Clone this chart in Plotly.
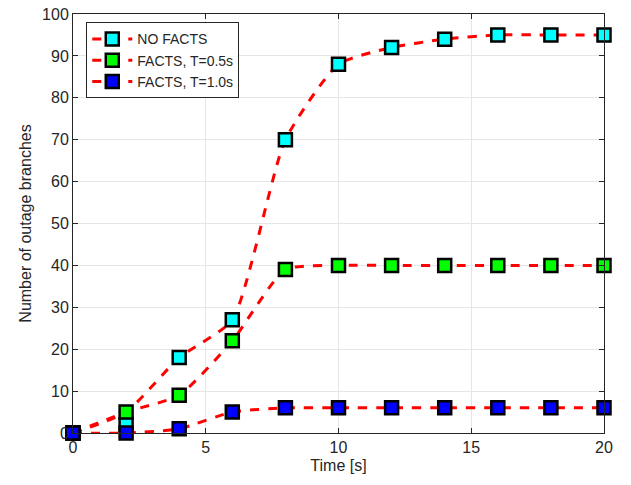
import plotly.graph_objects as go

time = [0, 2, 4, 6, 8, 10, 12, 14, 16, 18, 20]
no_facts = [0, 2, 18, 27, 70, 88, 92, 94, 95, 95, 95]
no_facts_curve = [0, 5, 18, 27, 70, 88, 92, 94, 95, 95, 95]
facts_05 = [0, 5, 9, 22, 39, 40, 40, 40, 40, 40, 40]
facts_10 = [0, 0, 1, 5, 6, 6, 6, 6, 6, 6, 6]

names = ["NO FACTS", "FACTS, T=0.5s", "FACTS, T=1.0s"]
fills = ["#00FFFF", "#00FF00", "#0000FF"]
marker_vals = [no_facts, facts_05, facts_10]
curve_vals = [no_facts_curve, facts_05, facts_10]

fig = go.Figure()
for cv in curve_vals:
    fig.add_trace(go.Scatter(
        x=time, y=cv, mode="lines",
        line=dict(color="#FF0000", width=3, dash="dash", shape="spline", smoothing=0.55),
        showlegend=False, hoverinfo="skip", cliponaxis=False))
for name, fill, mv in zip(names, fills, marker_vals):
    fig.add_trace(go.Scatter(
        x=time, y=mv, mode="markers", name=name, showlegend=False,
        marker=dict(symbol="square", size=13, color=fill, line=dict(color="black", width=2.5)),
        cliponaxis=False))
for name, fill in zip(names, fills):
    fig.add_trace(go.Scatter(
        x=[None], y=[None], mode="lines+markers", name=name,
        line=dict(color="#FF0000", width=3, dash="dash"),
        marker=dict(symbol="square", size=13, color=fill, line=dict(color="black", width=2.5))))

axis_common = dict(showgrid=True, gridcolor="#E6E6E6", gridwidth=1, showline=True, linecolor="#262626",
                   linewidth=1, mirror="ticks", ticks="inside", ticklen=5, tickcolor="#262626",
                   zeroline=False, automargin=False, tickfont=dict(size=16, color="#262626"))

fig.update_layout(
    width=631, height=485,
    margin=dict(l=73, r=27, t=14, b=52),
    paper_bgcolor="white", plot_bgcolor="white",
    font=dict(family="Liberation Sans, Arial, sans-serif", size=16, color="#262626"),
    xaxis=dict(range=[0, 20], dtick=5, title=dict(text="Time [s]", standoff=4, font=dict(size=16)), **axis_common),
    yaxis=dict(range=[0, 100], dtick=10, title=dict(text="Number of outage branches", standoff=6, font=dict(size=16)), **axis_common),
    legend=dict(x=0.025, y=0.98, xanchor="left", yanchor="top", bgcolor="white",
                bordercolor="#262626", borderwidth=1, font=dict(size=14), tracegroupgap=0,
                itemwidth=40),
)
fig.write_html("out.html", config={"displayModeBar": False},
               post_script="document.body.style.margin='0';")
